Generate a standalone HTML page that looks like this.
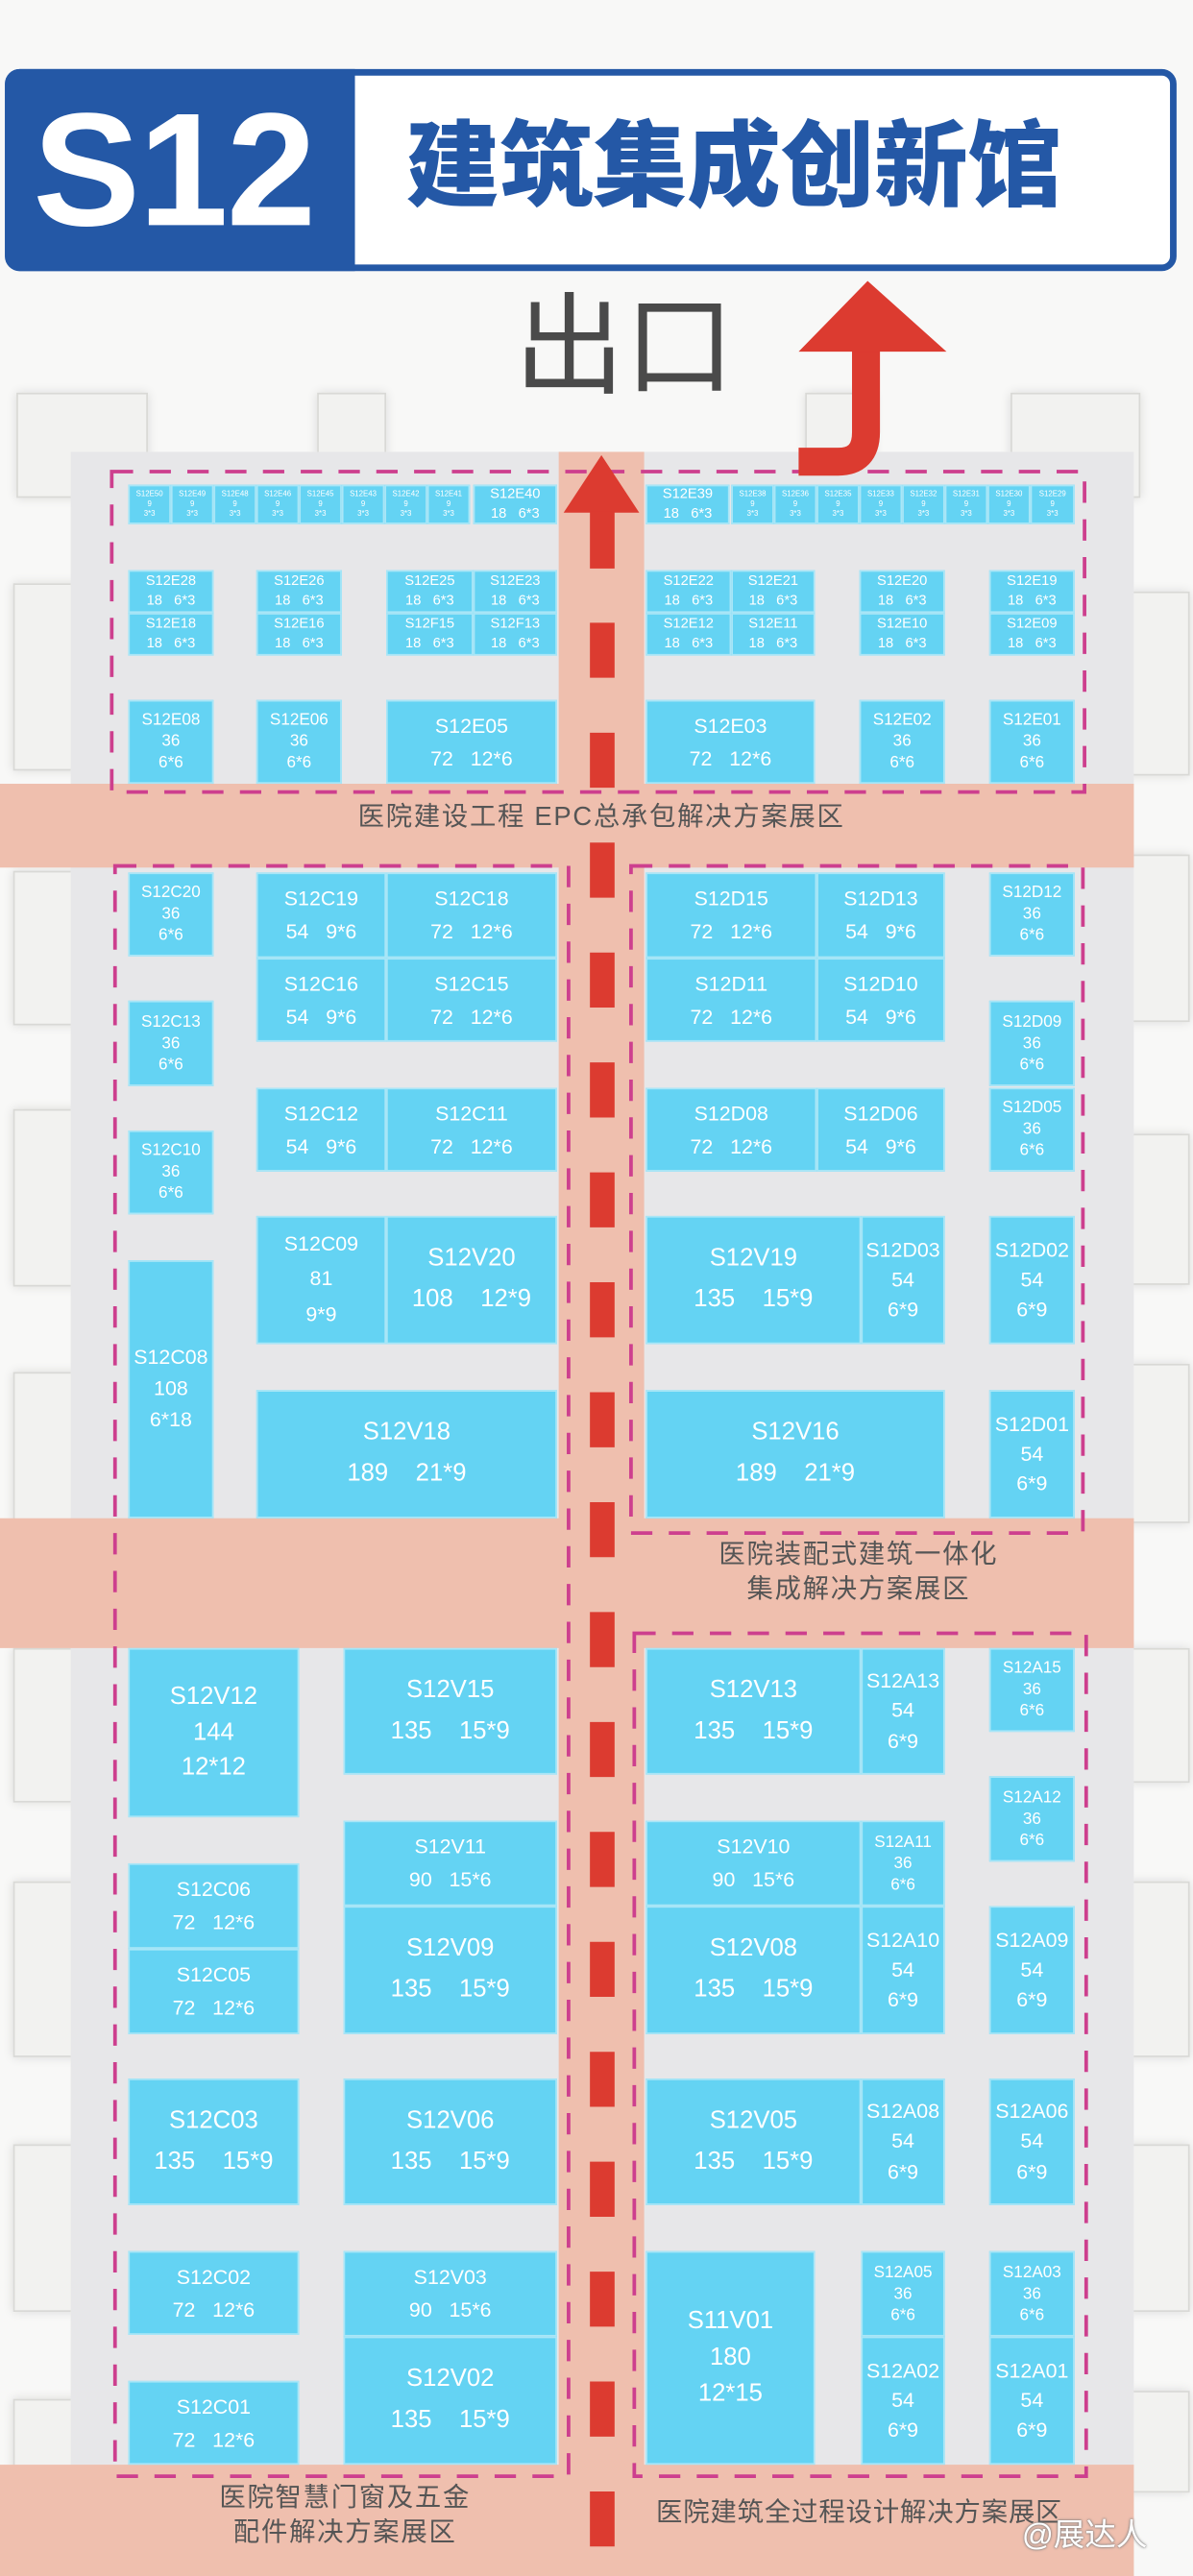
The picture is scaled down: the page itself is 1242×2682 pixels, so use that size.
<!DOCTYPE html>
<html><head><meta charset="utf-8"><style>
html,body{margin:0;padding:0;background:#f8f8f7;}
body{width:1242px;height:2681px;overflow:hidden;position:relative;}
#w{position:absolute;left:0;top:0;width:726px;height:1568px;transform:scale(1.71074);transform-origin:0 0;font-family:"Liberation Sans Narrow","Liberation Sans","Noto Sans CJK SC",sans-serif;}
.a{position:absolute;}
.tile{position:absolute;background:#f2f2f0;border:1px solid #d9d9d6;box-shadow:0 0 6px rgba(0,0,0,.12);}
.b{position:absolute;box-sizing:border-box;background:#64d3f3;border:1px solid #a9e6f7;color:#fff;display:flex;flex-direction:column;justify-content:center;align-items:center;text-align:center;white-space:nowrap;}
.t{font-size:4.6px;line-height:1.25;}
.e{font-size:8.6px;line-height:1.35;}
.s{font-size:10px;line-height:1.3;}
.m{font-size:12.5px;line-height:1.6;}
.l{font-size:15px;line-height:1.65;}
.z{position:absolute;color:#555;font-family:"Liberation Sans","Noto Sans CJK SC",sans-serif;text-align:center;white-space:nowrap;}
</style></head><body><div id="w">

<div class="a" style="left:3px;top:42px;width:705px;height:115px;border:4px solid #2458a6;border-radius:9px;background:#fff;"></div>
<div class="a" style="left:3px;top:42px;width:213px;height:123px;background:#2458a6;border-radius:9px 0 0 9px;"></div>
<div class="a" style="left:20px;top:44px;font-family:'Liberation Sans',sans-serif;font-weight:bold;font-size:98px;line-height:118px;color:#fff;letter-spacing:-1px;">S12</div>
<div class="a" style="left:247px;top:70px;font-family:'Liberation Sans','Noto Sans CJK SC',sans-serif;font-weight:900;font-size:57px;line-height:64px;color:#2458a6;">建筑集成创新馆</div>
<div class="a" style="left:313px;top:174px;font-family:'Liberation Sans','Noto Sans CJK SC',sans-serif;font-size:67px;line-height:76px;color:#4a4a4a;">出口</div>

<div class="tile" style="left:10px;top:239px;width:78px;height:62px;"></div>
<div class="tile" style="left:193px;top:239px;width:40px;height:40px;"></div>
<div class="tile" style="left:490px;top:239px;width:40px;height:40px;"></div>
<div class="tile" style="left:615px;top:239px;width:77px;height:62px;"></div>
<div class="tile" style="left:8px;top:355px;width:40px;height:112px;"></div>
<div class="tile" style="left:8px;top:530px;width:40px;height:92px;"></div>
<div class="tile" style="left:8px;top:675px;width:40px;height:106px;"></div>
<div class="tile" style="left:8px;top:835px;width:40px;height:90px;"></div>
<div class="tile" style="left:8px;top:1003px;width:40px;height:92px;"></div>
<div class="tile" style="left:8px;top:1145px;width:40px;height:105px;"></div>
<div class="tile" style="left:8px;top:1305px;width:40px;height:100px;"></div>
<div class="tile" style="left:8px;top:1460px;width:40px;height:60px;"></div>
<div class="tile" style="left:686px;top:360px;width:36px;height:110px;"></div>
<div class="tile" style="left:686px;top:520px;width:36px;height:100px;"></div>
<div class="tile" style="left:686px;top:690px;width:36px;height:90px;"></div>
<div class="tile" style="left:686px;top:830px;width:36px;height:95px;"></div>
<div class="tile" style="left:686px;top:1003px;width:36px;height:80px;"></div>
<div class="tile" style="left:686px;top:1145px;width:36px;height:105px;"></div>
<div class="tile" style="left:686px;top:1305px;width:36px;height:100px;"></div>
<div class="tile" style="left:686px;top:1455px;width:36px;height:60px;"></div>

<div class="a" style="left:43px;top:275px;width:647px;height:1293px;background:#e7e7e9;"></div>
<div class="a" style="left:0;top:477px;width:690px;height:51px;background:#efbfae;"></div>
<div class="a" style="left:0;top:924px;width:690px;height:79px;background:#efbfae;"></div>
<div class="a" style="left:0;top:1500px;width:690px;height:68px;background:#efbfae;"></div>
<div class="a" style="left:340px;top:275px;width:52px;height:1293px;background:#efbfae;"></div>

<div class="b t" style="left:78px;top:295px;width:26px;height:24px;">S12E50<br>9<br>3*3</div>
<div class="b t" style="left:104px;top:295px;width:26px;height:24px;">S12E49<br>9<br>3*3</div>
<div class="b t" style="left:130px;top:295px;width:26px;height:24px;">S12E48<br>9<br>3*3</div>
<div class="b t" style="left:156px;top:295px;width:26px;height:24px;">S12E46<br>9<br>3*3</div>
<div class="b t" style="left:182px;top:295px;width:26px;height:24px;">S12E45<br>9<br>3*3</div>
<div class="b t" style="left:208px;top:295px;width:26px;height:24px;">S12E43<br>9<br>3*3</div>
<div class="b t" style="left:234px;top:295px;width:26px;height:24px;">S12E42<br>9<br>3*3</div>
<div class="b t" style="left:260px;top:295px;width:26px;height:24px;">S12E41<br>9<br>3*3</div>
<div class="b e" style="left:288px;top:295px;width:51px;height:24px;">S12E40<br>18&nbsp;&nbsp;&nbsp;6*3</div>
<div class="b e" style="left:393px;top:295px;width:51px;height:24px;">S12E39<br>18&nbsp;&nbsp;&nbsp;6*3</div>
<div class="b t" style="left:445px;top:295px;width:26px;height:24px;">S12E38<br>9<br>3*3</div>
<div class="b t" style="left:471px;top:295px;width:26px;height:24px;">S12E36<br>9<br>3*3</div>
<div class="b t" style="left:497px;top:295px;width:26px;height:24px;">S12E35<br>9<br>3*3</div>
<div class="b t" style="left:523px;top:295px;width:26px;height:24px;">S12E33<br>9<br>3*3</div>
<div class="b t" style="left:549px;top:295px;width:26px;height:24px;">S12E32<br>9<br>3*3</div>
<div class="b t" style="left:575px;top:295px;width:26px;height:24px;">S12E31<br>9<br>3*3</div>
<div class="b t" style="left:601px;top:295px;width:26px;height:24px;">S12E30<br>9<br>3*3</div>
<div class="b t" style="left:627px;top:295px;width:27px;height:24px;">S12E29<br>9<br>3*3</div>

<div class="b e" style="left:78px;top:347px;width:52px;height:26px;">S12E28<br>18&nbsp;&nbsp;&nbsp;6*3</div>
<div class="b e" style="left:156px;top:347px;width:52px;height:26px;">S12E26<br>18&nbsp;&nbsp;&nbsp;6*3</div>
<div class="b e" style="left:235px;top:347px;width:53px;height:26px;">S12E25<br>18&nbsp;&nbsp;&nbsp;6*3</div>
<div class="b e" style="left:288px;top:347px;width:51px;height:26px;">S12E23<br>18&nbsp;&nbsp;&nbsp;6*3</div>
<div class="b e" style="left:393px;top:347px;width:52px;height:26px;">S12E22<br>18&nbsp;&nbsp;&nbsp;6*3</div>
<div class="b e" style="left:445px;top:347px;width:51px;height:26px;">S12E21<br>18&nbsp;&nbsp;&nbsp;6*3</div>
<div class="b e" style="left:523px;top:347px;width:52px;height:26px;">S12E20<br>18&nbsp;&nbsp;&nbsp;6*3</div>
<div class="b e" style="left:602px;top:347px;width:52px;height:26px;">S12E19<br>18&nbsp;&nbsp;&nbsp;6*3</div>
<div class="b e" style="left:78px;top:373px;width:52px;height:26px;">S12E18<br>18&nbsp;&nbsp;&nbsp;6*3</div>
<div class="b e" style="left:156px;top:373px;width:52px;height:26px;">S12E16<br>18&nbsp;&nbsp;&nbsp;6*3</div>
<div class="b e" style="left:235px;top:373px;width:53px;height:26px;">S12F15<br>18&nbsp;&nbsp;&nbsp;6*3</div>
<div class="b e" style="left:288px;top:373px;width:51px;height:26px;">S12F13<br>18&nbsp;&nbsp;&nbsp;6*3</div>
<div class="b e" style="left:393px;top:373px;width:52px;height:26px;">S12E12<br>18&nbsp;&nbsp;&nbsp;6*3</div>
<div class="b e" style="left:445px;top:373px;width:51px;height:26px;">S12E11<br>18&nbsp;&nbsp;&nbsp;6*3</div>
<div class="b e" style="left:523px;top:373px;width:52px;height:26px;">S12E10<br>18&nbsp;&nbsp;&nbsp;6*3</div>
<div class="b e" style="left:602px;top:373px;width:52px;height:26px;">S12E09<br>18&nbsp;&nbsp;&nbsp;6*3</div>

<div class="b s" style="left:78px;top:426px;width:52px;height:51px;">S12E08<br>36<br>6*6</div>
<div class="b s" style="left:156px;top:426px;width:52px;height:51px;">S12E06<br>36<br>6*6</div>
<div class="b m" style="left:235px;top:426px;width:104px;height:51px;">S12E05<br>72&nbsp;&nbsp;&nbsp;12*6</div>
<div class="b m" style="left:393px;top:426px;width:103px;height:51px;">S12E03<br>72&nbsp;&nbsp;&nbsp;12*6</div>
<div class="b s" style="left:523px;top:426px;width:52px;height:51px;">S12E02<br>36<br>6*6</div>
<div class="b s" style="left:602px;top:426px;width:52px;height:51px;">S12E01<br>36<br>6*6</div>

<div class="b s" style="left:78px;top:531px;width:52px;height:51px;">S12C20<br>36<br>6*6</div>
<div class="b m" style="left:156px;top:531px;width:79px;height:52px;">S12C19<br>54&nbsp;&nbsp;&nbsp;9*6</div>
<div class="b m" style="left:235px;top:531px;width:104px;height:52px;">S12C18<br>72&nbsp;&nbsp;&nbsp;12*6</div>
<div class="b m" style="left:156px;top:583px;width:79px;height:51px;">S12C16<br>54&nbsp;&nbsp;&nbsp;9*6</div>
<div class="b m" style="left:235px;top:583px;width:104px;height:51px;">S12C15<br>72&nbsp;&nbsp;&nbsp;12*6</div>
<div class="b m" style="left:393px;top:531px;width:104px;height:52px;">S12D15<br>72&nbsp;&nbsp;&nbsp;12*6</div>
<div class="b m" style="left:497px;top:531px;width:78px;height:52px;">S12D13<br>54&nbsp;&nbsp;&nbsp;9*6</div>
<div class="b m" style="left:393px;top:583px;width:104px;height:51px;">S12D11<br>72&nbsp;&nbsp;&nbsp;12*6</div>
<div class="b m" style="left:497px;top:583px;width:78px;height:51px;">S12D10<br>54&nbsp;&nbsp;&nbsp;9*6</div>
<div class="b s" style="left:602px;top:531px;width:52px;height:51px;">S12D12<br>36<br>6*6</div>
<div class="b s" style="left:78px;top:609px;width:52px;height:52px;">S12C13<br>36<br>6*6</div>
<div class="b s" style="left:602px;top:609px;width:52px;height:52px;">S12D09<br>36<br>6*6</div>
<div class="b s" style="left:602px;top:662px;width:52px;height:51px;">S12D05<br>36<br>6*6</div>
<div class="b m" style="left:156px;top:662px;width:79px;height:51px;">S12C12<br>54&nbsp;&nbsp;&nbsp;9*6</div>
<div class="b m" style="left:235px;top:662px;width:104px;height:51px;">S12C11<br>72&nbsp;&nbsp;&nbsp;12*6</div>
<div class="b m" style="left:393px;top:662px;width:104px;height:51px;">S12D08<br>72&nbsp;&nbsp;&nbsp;12*6</div>
<div class="b m" style="left:497px;top:662px;width:78px;height:51px;">S12D06<br>54&nbsp;&nbsp;&nbsp;9*6</div>
<div class="b s" style="left:78px;top:688px;width:52px;height:51px;">S12C10<br>36<br>6*6</div>
<div class="b m" style="left:156px;top:740px;width:79px;height:78px;line-height:1.7;">S12C09<br>81<br>9*9</div>
<div class="b l" style="left:235px;top:740px;width:104px;height:78px;">S12V20<br>108&nbsp;&nbsp;&nbsp;&nbsp;12*9</div>
<div class="b l" style="left:393px;top:740px;width:131px;height:78px;">S12V19<br>135&nbsp;&nbsp;&nbsp;&nbsp;15*9</div>
<div class="b m" style="left:524px;top:740px;width:51px;height:78px;line-height:1.45;">S12D03<br>54<br>6*9</div>
<div class="b m" style="left:602px;top:740px;width:52px;height:78px;line-height:1.45;">S12D02<br>54<br>6*9</div>
<div class="b m" style="left:78px;top:767px;width:52px;height:157px;line-height:1.5;">S12C08<br>108<br>6*18</div>
<div class="b l" style="left:156px;top:846px;width:183px;height:78px;">S12V18<br>189&nbsp;&nbsp;&nbsp;&nbsp;21*9</div>
<div class="b l" style="left:393px;top:846px;width:182px;height:78px;">S12V16<br>189&nbsp;&nbsp;&nbsp;&nbsp;21*9</div>
<div class="b m" style="left:602px;top:846px;width:52px;height:78px;line-height:1.45;">S12D01<br>54<br>6*9</div>

<div class="b l" style="left:78px;top:1003px;width:104px;height:103px;line-height:1.45;">S12V12<br>144<br>12*12</div>
<div class="b l" style="left:209px;top:1003px;width:130px;height:77px;">S12V15<br>135&nbsp;&nbsp;&nbsp;&nbsp;15*9</div>
<div class="b l" style="left:393px;top:1003px;width:131px;height:77px;">S12V13<br>135&nbsp;&nbsp;&nbsp;&nbsp;15*9</div>
<div class="b m" style="left:524px;top:1003px;width:51px;height:77px;line-height:1.45;">S12A13<br>54<br>6*9</div>
<div class="b s" style="left:602px;top:1003px;width:52px;height:51px;">S12A15<br>36<br>6*6</div>
<div class="b s" style="left:602px;top:1081px;width:52px;height:52px;">S12A12<br>36<br>6*6</div>
<div class="b m" style="left:209px;top:1108px;width:130px;height:52px;">S12V11<br>90&nbsp;&nbsp;&nbsp;15*6</div>
<div class="b m" style="left:393px;top:1108px;width:131px;height:52px;">S12V10<br>90&nbsp;&nbsp;&nbsp;15*6</div>
<div class="b s" style="left:524px;top:1108px;width:51px;height:52px;">S12A11<br>36<br>6*6</div>
<div class="b m" style="left:78px;top:1134px;width:104px;height:52px;">S12C06<br>72&nbsp;&nbsp;&nbsp;12*6</div>
<div class="b m" style="left:78px;top:1186px;width:104px;height:52px;">S12C05<br>72&nbsp;&nbsp;&nbsp;12*6</div>
<div class="b l" style="left:209px;top:1160px;width:130px;height:78px;">S12V09<br>135&nbsp;&nbsp;&nbsp;&nbsp;15*9</div>
<div class="b l" style="left:393px;top:1160px;width:131px;height:78px;">S12V08<br>135&nbsp;&nbsp;&nbsp;&nbsp;15*9</div>
<div class="b m" style="left:524px;top:1160px;width:51px;height:78px;line-height:1.45;">S12A10<br>54<br>6*9</div>
<div class="b m" style="left:602px;top:1160px;width:52px;height:78px;line-height:1.45;">S12A09<br>54<br>6*9</div>
<div class="b l" style="left:78px;top:1265px;width:104px;height:77px;">S12C03<br>135&nbsp;&nbsp;&nbsp;&nbsp;15*9</div>
<div class="b l" style="left:209px;top:1265px;width:130px;height:77px;">S12V06<br>135&nbsp;&nbsp;&nbsp;&nbsp;15*9</div>
<div class="b l" style="left:393px;top:1265px;width:131px;height:77px;">S12V05<br>135&nbsp;&nbsp;&nbsp;&nbsp;15*9</div>
<div class="b m" style="left:524px;top:1265px;width:51px;height:77px;line-height:1.45;">S12A08<br>54<br>6*9</div>
<div class="b m" style="left:602px;top:1265px;width:52px;height:77px;line-height:1.45;">S12A06<br>54<br>6*9</div>
<div class="b m" style="left:78px;top:1370px;width:104px;height:51px;">S12C02<br>72&nbsp;&nbsp;&nbsp;12*6</div>
<div class="b m" style="left:209px;top:1370px;width:130px;height:52px;">S12V03<br>90&nbsp;&nbsp;&nbsp;15*6</div>
<div class="b s" style="left:524px;top:1370px;width:51px;height:52px;">S12A05<br>36<br>6*6</div>
<div class="b s" style="left:602px;top:1370px;width:52px;height:52px;">S12A03<br>36<br>6*6</div>
<div class="b l" style="left:393px;top:1370px;width:103px;height:130px;line-height:1.45;">S11V01<br>180<br>12*15</div>
<div class="b l" style="left:209px;top:1422px;width:130px;height:78px;">S12V02<br>135&nbsp;&nbsp;&nbsp;&nbsp;15*9</div>
<div class="b m" style="left:524px;top:1422px;width:51px;height:78px;line-height:1.45;">S12A02<br>54<br>6*9</div>
<div class="b m" style="left:602px;top:1422px;width:52px;height:78px;line-height:1.45;">S12A01<br>54<br>6*9</div>
<div class="b m" style="left:78px;top:1449px;width:104px;height:51px;">S12C01<br>72&nbsp;&nbsp;&nbsp;12*6</div>

<svg class="a" style="left:0;top:0;" width="726" height="1568" viewBox="0 0 726 1568">
<g fill="none" stroke="#cd3f8e" stroke-width="2.2" stroke-dasharray="13 10">
<rect x="68" y="287" width="592" height="195"/>
<rect x="70" y="527" width="276" height="980"/>
<rect x="384" y="527" width="275" height="406"/>
<rect x="386" y="994" width="275" height="513"/>
</g>
<g fill="#dc3b30">
<polygon points="366,277 343,312 389,312"/>
<rect x="359" y="311" width="15" height="35"/>
</g>
<line x1="366.5" y1="379" x2="366.5" y2="1568" stroke="#dc3b30" stroke-width="15" stroke-dasharray="33.5 33.4"/>
<path d="M486 281 L510 281 Q527 281 527 263 L527 211" fill="none" stroke="#dc3b30" stroke-width="17"/>
<polygon points="528,171 486,214 576,214" fill="#dc3b30"/>
</svg>

<div class="z" style="left:180px;top:487px;width:372px;font-size:16px;line-height:22px;letter-spacing:1px;">医院建设工程 EPC总承包解决方案展区</div>
<div class="z" style="left:400px;top:936px;width:245px;font-size:16px;line-height:21px;letter-spacing:1px;">医院装配式建筑一体化<br>集成解决方案展区</div>
<div class="z" style="left:95px;top:1510px;width:230px;font-size:16px;line-height:21px;letter-spacing:1px;">医院智慧门窗及五金<br>配件解决方案展区</div>
<div class="z" style="left:388px;top:1519px;width:270px;font-size:16px;line-height:22px;letter-spacing:0.5px;">医院建筑全过程设计解决方案展区</div>
<div class="z" style="left:605px;top:1532px;width:110px;font-size:19px;line-height:24px;color:#fff;text-shadow:0 0 2px #888,0 0 1px #666;">@展达人</div>

</div></body></html>
